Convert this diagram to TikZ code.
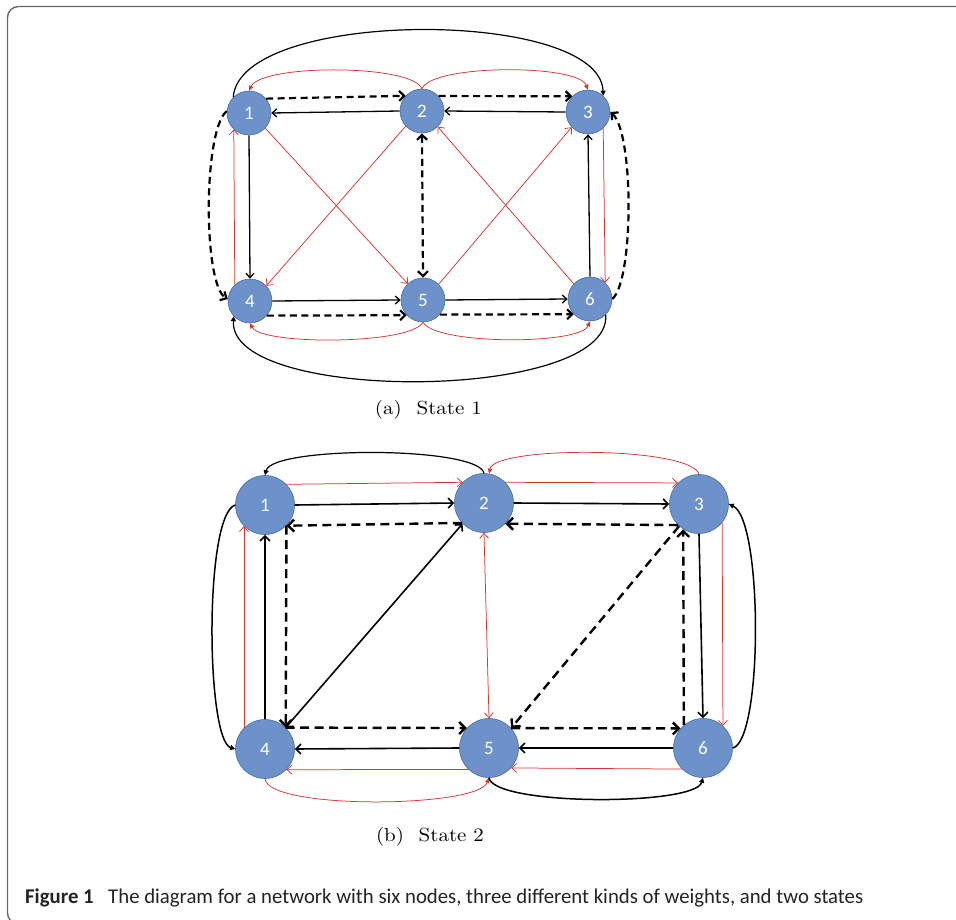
\documentclass[tikz,border=0pt]{standalone}
\usepackage{fontspec}
\usepackage{graphicx}
\newfontfamily\carl{Carlito}
\usetikzlibrary{arrows.meta}
\definecolor{nodefill}{RGB}{108,146,201}
\definecolor{nodeline}{RGB}{72,108,162}
\definecolor{redline}{RGB}{218,52,48}
\definecolor{framec}{RGB}{105,105,105}
\definecolor{captext}{RGB}{35,35,35}
\tikzset{
  nd/.style={circle, fill=nodefill, draw=nodeline, line width=0.6pt, inner sep=0pt,
    minimum size=#1, text=white, font=\carl\fontsize{19}{19}\selectfont},
  blk/.style={draw=black, line width=1.3pt, -{Straight Barb[length=4.5pt,width=8pt]}},
  blkb/.style={draw=black, line width=1.6pt, -{Straight Barb[length=5pt,width=10pt]}},
  dsh/.style={draw=black, line width=2.2pt, dash pattern=on 7pt off 4.5pt,
    -{Straight Barb[length=5pt,width=10pt]}},
  dshb/.style={draw=black, line width=2.4pt, dash pattern=on 9pt off 5.5pt,
    -{Straight Barb[length=6pt,width=12pt]}},
  rd/.style={draw=redline, line width=0.75pt, -{Straight Barb[length=5pt,width=9pt]}},
  arcB/.style={draw=black, line width=1.2pt, -{Triangle[length=5pt,width=5pt]}},
  arcR/.style={draw=redline, line width=0.75pt, -{Triangle[length=5pt,width=4.5pt]}},
  subcap/.style={anchor=base, inner sep=0pt},
}
\begin{document}
\begin{tikzpicture}[x=1pt,y=-1pt]
\clip (0,0) rectangle (956,920);
\draw[framec, line width=1.4pt, rounded corners=11pt] (960,6.5) -- (7.5,6.5) -- (7.5,924) -- (60,924);

% ---------------- (a) State 1 ----------------
\node[nd=44pt] (a1) at (249,113) {1};
\node[nd=44pt] (a2) at (422,111) {2};
\node[nd=44pt] (a3) at (588,112) {3};
\node[nd=44pt] (a4) at (250,301) {4};
\node[nd=44pt] (a5) at (423,300) {5};
\node[nd=44pt] (a6) at (590,299) {6};

\draw[arcB] (a1.135) .. controls (240,8) and (600,8) .. (a3.47);
\draw[arcR] (a2.90) .. controls (412,64) and (262,64) .. (a1.90);
\draw[arcR] (a2.90) .. controls (432,64) and (578,64) .. (a3.90);
\draw[dsh] (a1.40) -- (a2.137);
\draw[dsh] (a2.42) -- (a3.135);
\draw[blk] (a2.180) -- (a1.0);
\draw[blk] (a3.180) -- (a2.0);
\draw[dsh] (a1.175) .. controls (203,130) and (203,285) .. (a4.175);
\draw[rd] (a4.133) -- (a1.227);
\draw[blk] (a1.south) -- (a4.north);
\draw[rd] (a1.-43) -- (a5.133);
\draw[rd] (a2.-137) -- (a4.43);
\draw[dsh, {Straight Barb[length=5pt,width=10pt]}-{Straight Barb[length=5pt,width=10pt]}] (a2.south) -- (a5.north);
\draw[rd] (a5.45) -- (a3.-137);
\draw[rd] (a6.137) -- (a2.-45);
\draw[blk] (a6.north) -- (a3.south);
\draw[rd] (a3.-47) -- (a6.47);
\draw[dsh] (a6.0) .. controls (634,280) and (634,132) .. (a3.0);
\draw[blk] (a4.0) -- (a5.180);
\draw[blk] (a5.0) -- (a6.180);
\draw[dsh] (a4.-41) -- (a5.-137);
\draw[dsh] (a5.-41) -- (a6.-137);
\draw[arcR] (a5.south) .. controls (410,345) and (262,345) .. (a4.south);
\draw[arcR] (a5.south) .. controls (436,345) and (580,345) .. (a6.south);
\draw[arcB] (a6.-45) .. controls (612,402) and (228,404) .. (a4.-137);

\node[subcap] (capa) at (428.5,414) {\resizebox{107pt}{14.2pt}{\fontsize{10}{12}\selectfont (a)\hspace{0.7em}State 1}};

% ---------------- (b) State 2 ----------------
\node[nd=59pt] (b1) at (265,505) {1};
\node[nd=59pt] (b2) at (484,503) {2};
\node[nd=59pt] (b3) at (699,504) {3};
\node[nd=59pt] (b4) at (265,749) {4};
\node[nd=59pt] (b5) at (489,748) {5};
\node[nd=59pt] (b6) at (703,748) {6};

\draw[arcB] (b2.north) .. controls (478,446) and (272,446) .. (b1.north);
\draw[arcR] (b3.north) .. controls (690,446) and (494,446) .. (b2.80);
\draw[rd] (b1.44) -- (b2.136);
\draw[rd] (b2.44) -- (b3.135);
\draw[blkb] (b1.0) -- (b2.180);
\draw[blkb] (b2.0) -- (b3.180);
\draw[dshb] (b2.222) -- (b1.-44);
\draw[dshb] (b3.225) -- (b2.-44);
\draw[dshb] (b1.-44) -- (b4.46);
\draw[dshb] (b4.46) -- (b5.138);
\draw[blkb, {Straight Barb[length=5pt,width=10pt]}-{Straight Barb[length=5pt,width=10pt]}] (b4.46) -- (b2.224);
\draw[blkb] (b4.north) -- (b1.south);
\draw[rd] (b4.135) -- (b1.225);
\draw[arcB, line width=1.5pt] (b1.180) .. controls (204,515) and (206,740) .. (b4.180);
\draw[rd, {Straight Barb[length=5pt,width=9pt]}-{Straight Barb[length=5pt,width=9pt]}] (b2.south) -- (b5.north);
\draw[dshb] (b3.228) -- (b5.42);
\draw[dshb] (b6.130) -- (b3.-122);
\draw[dshb] (b5.42) -- (b6.139);
\draw[blkb] (b3.south) -- (b6.north);
\draw[rd] (b3.-39) -- (b6.48);
\draw[arcB, line width=1.5pt] (b6.0) .. controls (763,740) and (763,520) .. (b3.0);
\draw[blkb] (b5.180) -- (b4.0);
\draw[blkb] (b6.180) -- (b5.0);
\draw[rd] (b5.-134) -- (b4.-44);
\draw[rd] (b6.-135) -- (b5.-42);
\draw[arcR] (b4.south) .. controls (268,810) and (478,808) .. (b5.south);
\draw[arcB, line width=1.5pt] (b5.south) .. controls (494,806) and (695,806) .. (b6.south);

\node[subcap] (capb) at (430,841) {\resizebox{108pt}{14.2pt}{\fontsize{10}{12}\selectfont (b)\hspace{0.7em}State 2}};

% ---------------- caption ----------------
\node[anchor=base west, inner sep=0pt, text=captext] (fig) at (25,903.3) {\resizebox{838pt}{\height}{\carl\fontsize{21}{24}\selectfont\textbf{Figure 1}\hspace{0.7em}The diagram for a network with six nodes, three different kinds of weights, and two states}};
\end{tikzpicture}
\end{document}
